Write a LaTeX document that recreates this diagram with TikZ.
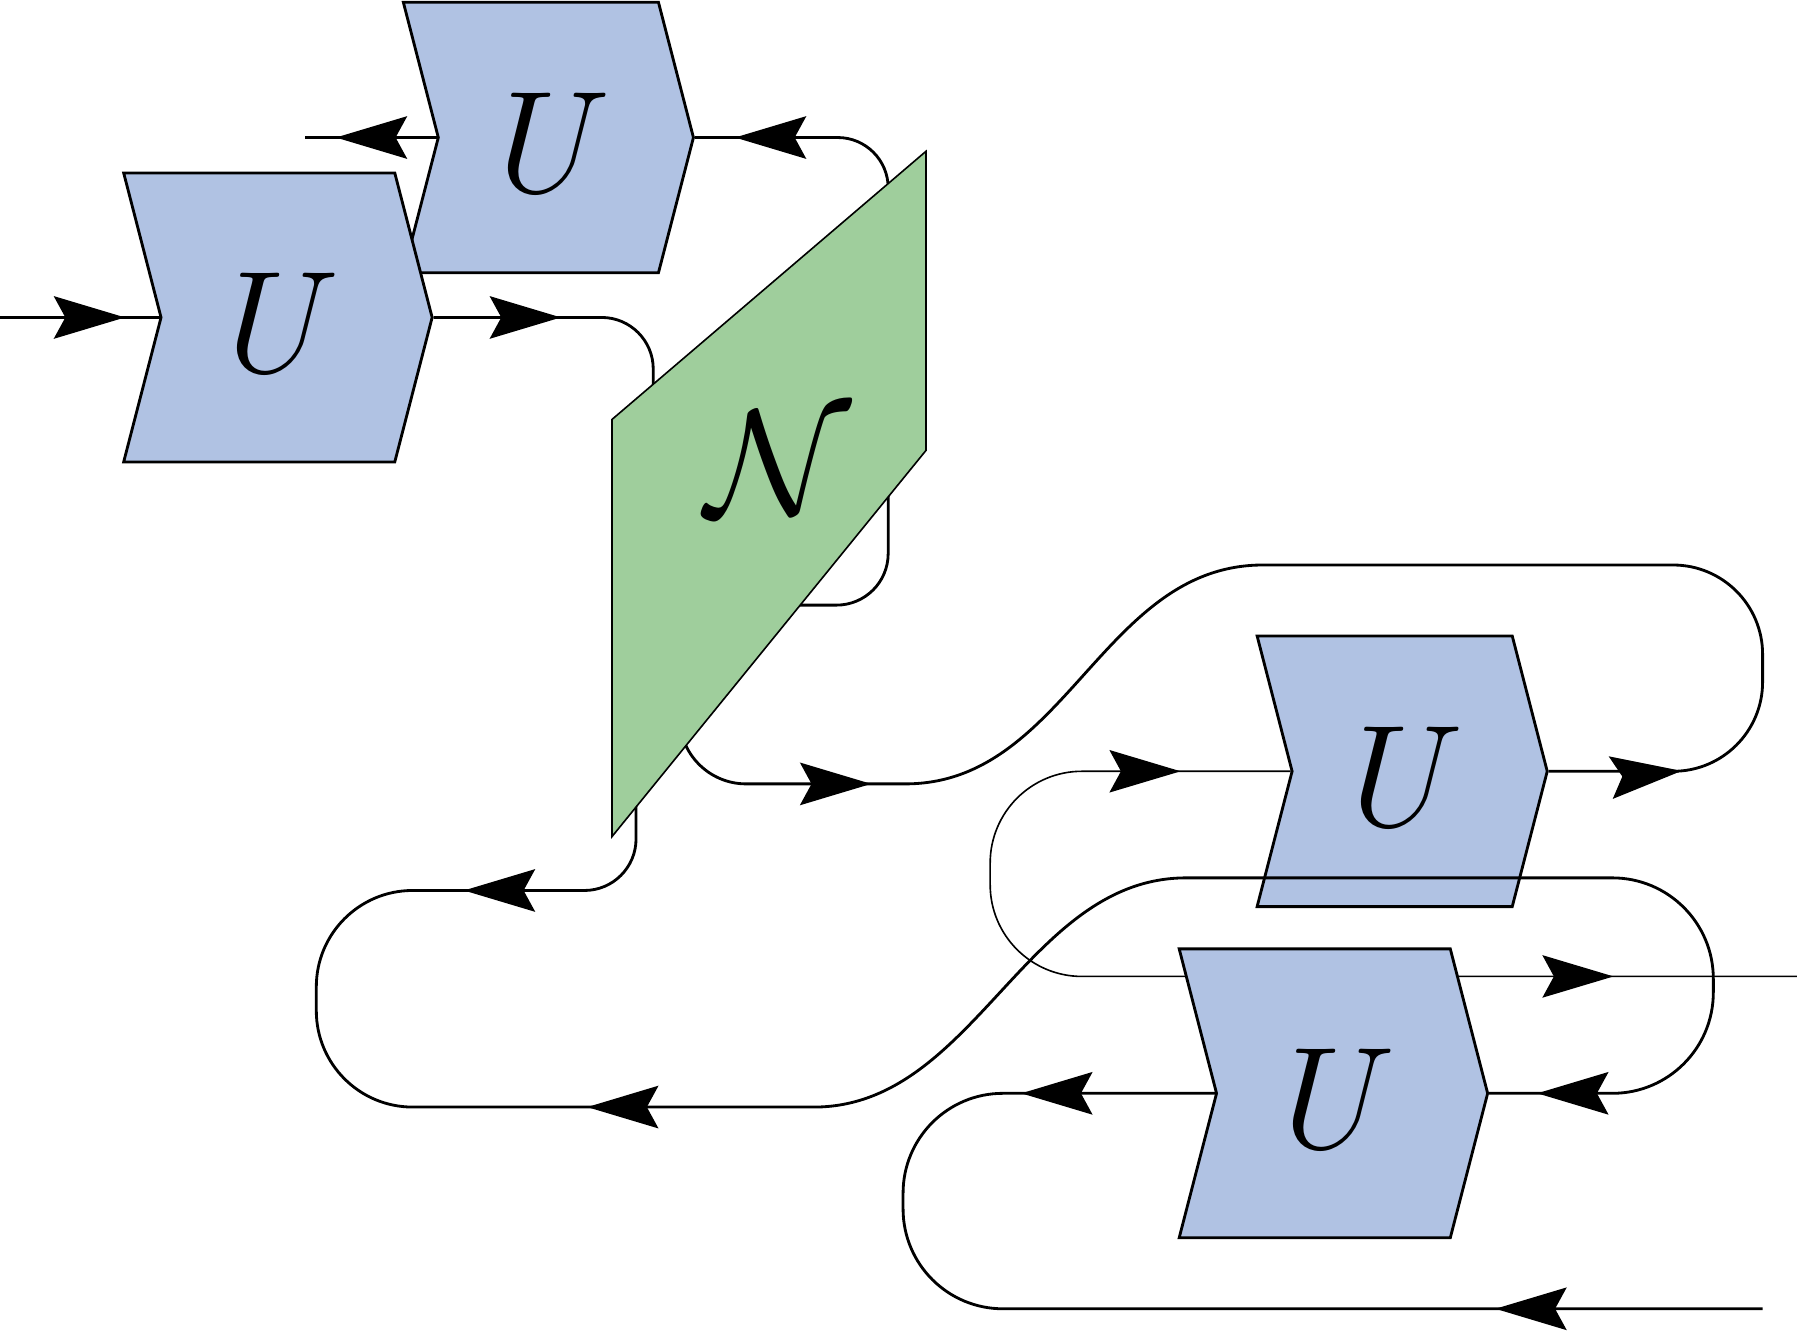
\documentclass[tikz,border=0pt]{standalone}
\usepackage{amssymb,amsmath}
\usepackage{graphicx}
\usepackage{tikz}
\usetikzlibrary{arrows.meta,backgrounds,decorations.markings,shapes.symbols}

\definecolor{ublue}{RGB}{176,194,227}
\definecolor{ngreen}{RGB}{159,206,156}
\newcommand{\bigsym}[1]{\raisebox{-0.05cm}[\height][\depth]{\kern0.1cm\scalebox{1.45}{$#1$}}}

\begin{document}
\begin{tikzpicture}[x=0.01cm,y=-0.01cm,line width=0.7pt,
      >={Stealth[length=6.2mm,width=3.7mm,inset=1mm]},
      ubox/.style={signal, signal to=east, signal from=west, signal pointer angle=151,
        draw, fill=ublue, inner sep=0pt, font=\Huge},
      usmall/.style={ubox, minimum width=2.53cm, minimum height=2.36cm},
      ubig/.style={ubox, minimum width=2.69cm, minimum height=2.52cm},
      nbox/.style={draw, fill=ngreen},
      wire/.style={draw},
      fwd/.style={postaction={decorate, decoration={markings, mark=at position #1 with {\arrow{>}}}}},
      bwd/.style={postaction={decorate, decoration={markings, mark=at position #1 with {\arrowreversed{>}}}}}]
   \useasboundingbox (0,0) rectangle (1568,1162.3);
   \node[usmall] (U1) at (478.5,120) {\bigsym{U}};
   \node[ubig] (U2) at (242.5,277) {\bigsym{U}};
   \node[usmall] (U3) at (1223.5,673) {\bigsym{U}};
   \node[ubig] (U4) at (1163.5,954) {\bigsym{U}};
   \coordinate (inL) at (0,277);
   \coordinate (outL) at (266,120);
   \coordinate (outR) at (1568,852);
   \coordinate (inR) at (1538,1142);
   \draw[wire, fwd=1.09cm] (inL) -- (U2.west);
   \draw[wire, fwd=0.88cm] (U1.west) -- (outL);
   \draw[wire, rounded corners=4.5mm, fwd=1.11cm] (U2.east) -- (570,277) -- (570,500);
   \draw[wire, rounded corners=4.4mm, bwd=0.35cm] (U1.east) -- (775,120) -- (775,300);
   \draw[wire, rounded corners=4.5mm] (775,350) -- (775,528) -- (650,528);
   \draw[wire, fwd=2.577cm, bwd=7.395cm, fwd=-0.42cm] (555,650) [rounded corners=4.5mm] -- (555,777)
      [rounded corners=8.4mm] -- (276,777) -- (276,966) [sharp corners] -- (710,966)
      .. controls (850,966) and (895,766) .. (1035,766) [rounded corners=8.8mm] -- (1495,766)
      -- (1495,954) -- (U4.east);
   \draw[wire, fwd=2.661cm, bwd=-1.16cm] (593,560) [rounded corners=5.8mm] -- (593,684)
      [sharp corners] -- (790,684) .. controls (930,684) and (962,493) .. (1102,493)
      [rounded corners=7.8mm] -- (1538,493) -- (1538,673) -- (U3.east);
   \draw[wire, rounded corners=8.7mm, fwd=1.69cm, bwd=-2.33cm] (U4.west) -- (788,954) -- (788,1142) -- (inR);
   \begin{pgfonlayer}{background}
      \draw[wire, rounded corners=8mm, bwd=0.96cm, fwd=-1.6cm] (U3.west) -- (864,673) -- (864,852) -- (outR);
   \end{pgfonlayer}
   % the channel sits on top of its wires
   \filldraw[nbox] (534,366) -- (808,132) -- (808,393) -- (534,730) -- cycle;
   \node[font=\Huge] (N) at (679,404) {\scalebox{1.5}{$\mathcal{N}$}};
\end{tikzpicture}
\end{document}
